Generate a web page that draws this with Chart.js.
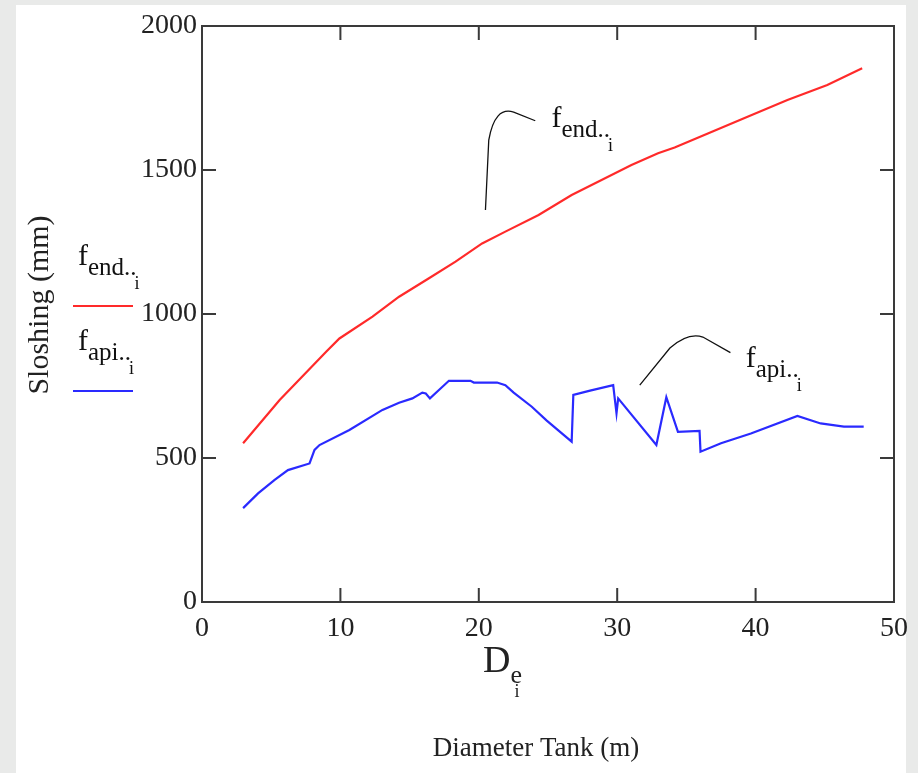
<!DOCTYPE html>
<html>
<head>
<meta charset="utf-8">
<script src="https://cdn.jsdelivr.net/npm/chart.js@4.4.0/dist/chart.umd.min.js"></script>
<style>
  html, body { margin: 0; padding: 0; background: #e9eae9; }
  #wrap { width: 918px; height: 773px; }
</style>
</head>
<body>
<div id="wrap"><canvas id="sloshChart" width="918" height="773"></canvas></div>
<script>
// Diametro do tanque (m) e altura de sloshing (mm)
const diameterEnd = [2.97, 5.61, 8.97, 9.93, 12.32, 14.24, 16.40, 18.32, 20.24, 21.92, 24.32,
    26.71, 28.87, 31.03, 32.95, 34.15, 36.55, 39.42, 42.30, 45.18, 47.70];
const sloshEnd = [551, 701, 869, 915, 991, 1060, 1124, 1182, 1245, 1286, 1344,
    1413, 1465, 1517, 1558, 1578, 1627, 1685, 1743, 1795, 1853];

const diameterApi = [2.97, 4.05, 5.25, 6.21, 7.77, 8.13, 8.49, 10.65, 13.04, 14.24, 15.20,
    15.92, 16.17, 16.47, 17.12, 17.84, 19.40, 19.64, 21.32, 21.92, 22.52, 23.83, 24.91,
    26.71, 26.83, 28.04, 29.71, 29.95, 30.07, 32.83, 33.55, 34.39, 35.95, 36.02, 37.50,
    39.66, 43.02, 44.70, 46.38, 47.81];
const sloshApi = [326, 377, 424, 458, 481, 528, 545, 597, 667, 692, 707,
    727, 724, 707, 736, 768, 768, 762, 762, 753, 727, 678, 630,
    557, 719, 734, 753, 655, 707, 545, 711, 591, 594, 522, 551,
    585, 646, 620, 609, 609];

const xTicks = [0, 10, 20, 30, 40, 50];
const yTicks = [0, 500, 1000, 1500, 2000];

const SERIF = '"Liberation Serif", "Times New Roman", serif';

function toPoints(xs, ys) {
    return xs.map((x, i) => ({ x: x, y: ys[i] }));
}

// nome estilo Mathcad: f com subscrito literal e indice i
function drawMathName(ctx, x, y, sub) {
    ctx.font = '30px ' + SERIF;
    ctx.fillText('f', x, y);
    let w = ctx.measureText('f').width;
    ctx.font = '25px ' + SERIF;
    ctx.fillText(sub + '.', x + w, y + 10);
    w += ctx.measureText(sub + '.').width;
    ctx.font = '18px ' + SERIF;
    ctx.fillText('i', x + w - 2, y + 24);
}

const decorPlugin = {
    id: 'decor',
    beforeDraw(chart) {
        const ctx = chart.ctx;
        ctx.save();
        ctx.fillStyle = '#e9eae9';
        ctx.fillRect(0, 0, chart.width, chart.height);
        ctx.fillStyle = '#ffffff';
        ctx.fillRect(16, 5, 890, 768);
        ctx.restore();
    },
    afterDraw(chart) {
        const ctx = chart.ctx;
        const a = chart.chartArea;
        const xs = chart.scales.x;
        const ys = chart.scales.y;
        ctx.save();

        // moldura e marcas para dentro
        ctx.strokeStyle = '#3a3a3a';
        ctx.lineWidth = 2;
        ctx.strokeRect(a.left, a.top, a.right - a.left, a.bottom - a.top);
        ctx.beginPath();
        xTicks.slice(1, -1).forEach(v => {
            const px = xs.getPixelForValue(v);
            ctx.moveTo(px, a.bottom); ctx.lineTo(px, a.bottom - 14);
            ctx.moveTo(px, a.top); ctx.lineTo(px, a.top + 14);
        });
        yTicks.slice(1, -1).forEach(v => {
            const py = ys.getPixelForValue(v);
            ctx.moveTo(a.left, py); ctx.lineTo(a.left + 14, py);
            ctx.moveTo(a.right, py); ctx.lineTo(a.right - 14, py);
        });
        ctx.stroke();

        // linhas de chamada
        const P = (dx, dy) => [xs.getPixelForValue(dx), ys.getPixelForValue(dy)];
        ctx.strokeStyle = '#111';
        ctx.lineWidth = 1.3;
        ctx.beginPath();
        let p = P(20.48, 1361); ctx.moveTo(p[0], p[1]);
        p = P(20.72, 1604); ctx.lineTo(p[0], p[1]);
        let c = P(21.15, 1722); p = P(22.52, 1701);
        ctx.quadraticCurveTo(c[0], c[1], p[0], p[1]);
        p = P(24.08, 1671); ctx.lineTo(p[0], p[1]);

        p = P(31.63, 753); ctx.moveTo(p[0], p[1]);
        p = P(33.81, 882); ctx.lineTo(p[0], p[1]);
        c = P(35.11, 937); p = P(36.19, 920);
        ctx.quadraticCurveTo(c[0], c[1], p[0], p[1]);
        p = P(38.18, 866); ctx.lineTo(p[0], p[1]);
        ctx.stroke();

        ctx.fillStyle = '#111';
        ctx.textAlign = 'left';
        ctx.textBaseline = 'alphabetic';
        p = P(25.25, 1649); drawMathName(ctx, p[0], p[1], 'end.');
        p = P(39.28, 816); drawMathName(ctx, p[0], p[1], 'api.');

        // legenda a esquerda
        drawMathName(ctx, 78, 265, 'end.');
        drawMathName(ctx, 78, 350, 'api.');
        ctx.lineWidth = 2.2;
        ctx.strokeStyle = '#ff2a2a';
        ctx.beginPath(); ctx.moveTo(73, 306); ctx.lineTo(133, 306); ctx.stroke();
        ctx.strokeStyle = '#2a2aff';
        ctx.beginPath(); ctx.moveTo(73, 391); ctx.lineTo(133, 391); ctx.stroke();

        // titulos dos eixos
        ctx.fillStyle = '#222';
        ctx.save();
        ctx.translate(48, 305);
        ctx.rotate(-Math.PI / 2);
        ctx.textAlign = 'center';
        ctx.font = '30px ' + SERIF;
        ctx.fillText('Sloshing (mm)', 0, 0);
        ctx.restore();

        ctx.textAlign = 'left';
        ctx.font = '38px ' + SERIF;
        ctx.fillText('D', 483, 672);
        const dw = ctx.measureText('D').width;
        ctx.font = '26px ' + SERIF;
        ctx.fillText('e', 483 + dw, 683);
        ctx.font = '18px ' + SERIF;
        ctx.fillText('i', 483 + dw + 4, 697);

        ctx.textAlign = 'center';
        ctx.font = '27px ' + SERIF;
        ctx.fillText('Diameter Tank (m)', 536, 756);
        ctx.restore();
    }
};

new Chart(document.getElementById('sloshChart'), {
    type: 'scatter',
    data: {
        datasets: [{
            label: 'f end',
            data: toPoints(diameterEnd, sloshEnd),
            showLine: true,
            borderColor: '#ff2a2a',
            borderWidth: 2.2,
            pointRadius: 0,
            tension: 0
        }, {
            label: 'f api',
            data: toPoints(diameterApi, sloshApi),
            showLine: true,
            borderColor: '#2a2aff',
            borderWidth: 2.2,
            pointRadius: 0,
            tension: 0
        }]
    },
    options: {
        responsive: false,
        animation: false,
        events: [],
        layout: { padding: { left: 0, top: 26, right: 21, bottom: 127 } },
        plugins: { legend: { display: false }, tooltip: { enabled: false } },
        scales: {
            x: {
                type: 'linear', min: 0, max: 50,
                afterFit(scale) { scale.height = 44; },
                afterBuildTicks(scale) { scale.ticks = xTicks.map(v => ({ value: v })); },
                grid: { display: false, drawTicks: false },
                border: { display: false },
                ticks: { color: '#222', font: { family: SERIF, size: 28 }, padding: 10, maxRotation: 0,
                    callback: v => String(v) }
            },
            y: {
                min: 0, max: 2000,
                afterFit(scale) { scale.width = 202; },
                afterBuildTicks(scale) { scale.ticks = yTicks.map(v => ({ value: v })); },
                grid: { display: false, drawTicks: false },
                border: { display: false },
                ticks: { color: '#222', font: { family: SERIF, size: 28 }, padding: 5,
                    callback: v => String(v) }
            }
        }
    },
    plugins: [decorPlugin]
});
</script>
</body>
</html>
